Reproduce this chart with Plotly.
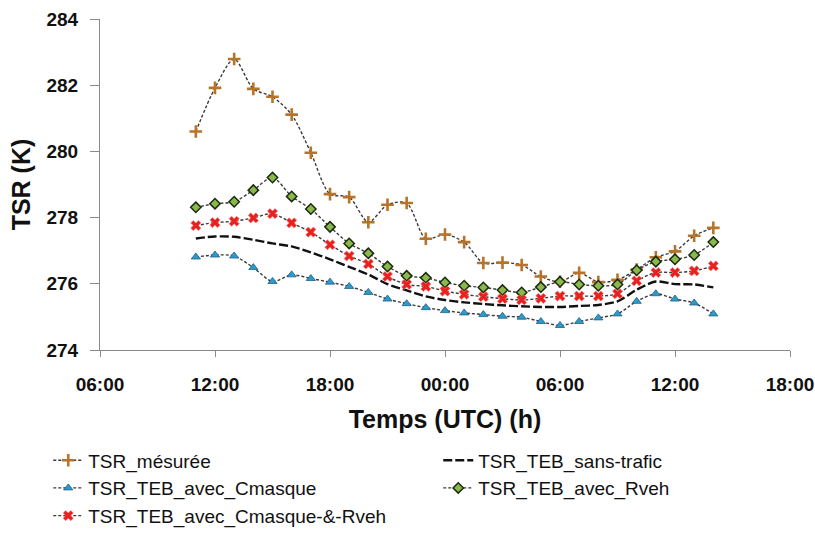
import plotly.graph_objects as go

# Hours since 00:00 of day 1 (11:00 day 1 -> 14:00 day 2)
hours = [11, 12, 13, 14, 15, 16, 17, 18, 19, 20, 21, 22, 23, 24,
         25, 26, 27, 28, 29, 30, 31, 32, 33, 34, 35, 36, 37, 38]

tsr_mesuree = [280.60, 281.92, 282.79, 281.89, 281.65, 281.11, 279.96, 278.71, 278.62, 277.86,
               278.39, 278.44, 277.36, 277.49, 277.26, 276.63, 276.64, 276.57, 276.22, 276.06,
               276.33, 276.05, 276.12, 276.43, 276.80, 276.98, 277.45, 277.69]
tsr_sans_trafic = [277.37, 277.43, 277.42, 277.33, 277.22, 277.13, 276.95, 276.74, 276.51, 276.28,
                   275.99, 275.80, 275.62, 275.51, 275.44, 275.39, 275.35, 275.32, 275.30, 275.30,
                   275.33, 275.36, 275.47, 275.82, 276.07, 275.99, 275.98, 275.89]
tsr_cmasque = [276.81, 276.87, 276.84, 276.49, 276.07, 276.27, 276.16, 276.05, 275.92, 275.74,
               275.54, 275.40, 275.28, 275.19, 275.12, 275.07, 275.02, 274.99, 274.86, 274.74,
               274.86, 274.97, 275.09, 275.47, 275.70, 275.54, 275.42, 275.09]
tsr_rveh = [278.31, 278.42, 278.48, 278.83, 279.21, 278.64, 278.26, 277.72, 277.22, 276.92,
            276.52, 276.24, 276.18, 276.04, 275.94, 275.89, 275.81, 275.74, 275.90, 276.06,
            275.98, 275.94, 275.98, 276.41, 276.67, 276.74, 276.87, 277.26]
tsr_cmasque_rveh = [277.76, 277.85, 277.89, 277.99, 278.12, 277.84, 277.56, 277.18, 276.84, 276.60,
                    276.22, 275.98, 275.92, 275.78, 275.68, 275.61, 275.55, 275.51, 275.56, 275.63,
                    275.63, 275.63, 275.70, 276.09, 276.34, 276.34, 276.39, 276.54]

tick_vals = [6, 12, 18, 24, 30, 36, 42]
tick_text = ["06:00", "12:00", "18:00", "00:00", "06:00", "12:00", "18:00"]
y_ticks = [274, 276, 278, 280, 282, 284]

FONT = "Liberation Sans, Arial, sans-serif"
dash_thin = "3px,2px"

fig = go.Figure()

fig.add_trace(go.Scatter(
    x=hours, y=tsr_mesuree, name="TSR_mésurée", mode="lines+markers",
    line=dict(color="#3a3a3a", width=1.4, dash=dash_thin, shape="spline", smoothing=0.8),
    marker=dict(symbol="cross-thin-open", size=9, color="#b8732a",
                line=dict(color="#b8732a", width=2.6)),
))
fig.add_trace(go.Scatter(
    x=hours, y=tsr_sans_trafic, name="TSR_TEB_sans-trafic", mode="lines",
    line=dict(color="#111111", width=2.4, dash="9px,3px", shape="spline", smoothing=0.8),
))
fig.add_trace(go.Scatter(
    x=hours, y=tsr_cmasque, name="TSR_TEB_avec_Cmasque", mode="lines+markers",
    line=dict(color="#3a3a3a", width=1.4, dash=dash_thin, shape="spline", smoothing=0.8),
    marker=dict(symbol="triangle-up", size=8, color="#2e9acb",
                line=dict(color="#1d5f80", width=0.8)),
))
fig.add_trace(go.Scatter(
    x=hours, y=tsr_rveh, name="TSR_TEB_avec_Rveh", mode="lines+markers",
    line=dict(color="#3a3a3a", width=1.4, dash=dash_thin, shape="spline", smoothing=0.8),
    marker=dict(symbol="diamond", size=8, color="#8ab84a",
                line=dict(color="#1a2a10", width=1.5)),
))
fig.add_trace(go.Scatter(
    x=hours, y=tsr_cmasque_rveh, name="TSR_TEB_avec_Cmasque-&-Rveh", mode="lines+markers",
    line=dict(color="#3a3a3a", width=1.4, dash=dash_thin, shape="spline", smoothing=0.8),
    marker=dict(symbol="x", size=9, color="#e8201e",
                line=dict(color="#ff8080", width=0.6)),
))

fig.update_layout(
    width=815, height=533,
    margin=dict(l=100, r=25, t=19, b=183, autoexpand=False),
    paper_bgcolor="white", plot_bgcolor="white",
    font=dict(family=FONT, color="#111111"),
    showlegend=True,
    legend=dict(
        orientation="h", x=-0.075, xanchor="left", y=-0.276, yanchor="top",
        entrywidth=345, font=dict(family=FONT, size=19, color="#111111"),
        bgcolor="rgba(0,0,0,0)", tracegroupgap=0,
    ),
    xaxis=dict(
        range=[6, 42], tickmode="array", tickvals=tick_vals, ticktext=tick_text,
        showgrid=False, zeroline=False, showline=True, linecolor="#8a8a8a", linewidth=1,
        ticks="outside", ticklen=6, tickcolor="#8a8a8a", tickwidth=1,
        ticklabelstandoff=11, automargin=False,
        tickfont=dict(family=FONT, size=19, color="#111111", weight="bold"),
        title=dict(text="<b>Temps (UTC) (h)</b>", font=dict(family=FONT, size=25, color="#111111"),
                   standoff=16),
    ),
    yaxis=dict(
        range=[274, 284], tickmode="array", tickvals=y_ticks,
        showgrid=False, zeroline=False, showline=True, linecolor="#8a8a8a", linewidth=1,
        ticks="outside", ticklen=9, tickcolor="#8a8a8a", tickwidth=1,
        ticklabelstandoff=8, automargin=False,
        tickfont=dict(family=FONT, size=19, color="#111111", weight="bold"),
        title=dict(text="<b>TSR (K)</b>", font=dict(family=FONT, size=25, color="#111111"),
                   standoff=8),
    ),
)

fig.write_html("out.html", config={"displayModeBar": False},
               post_script="document.body.style.margin='0px';")
